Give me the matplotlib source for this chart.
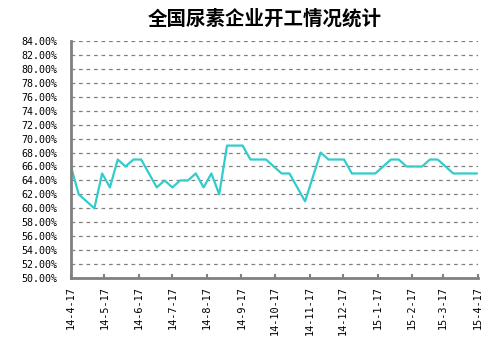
import matplotlib
matplotlib.use('Agg')
import matplotlib.pyplot as plt
import pandas as pd
import numpy as np

# weekly operating rate (%)
dates = pd.date_range('2014-04-17', periods=53, freq='7D')
rate = [66, 62, 61, 60, 65, 63, 67, 66, 67, 67,
        65, 63, 64, 63, 64, 64, 65, 63, 65, 62,
        69, 69, 69, 67, 67, 67, 66, 65, 65, 63,
        61, 64.5, 68, 67, 67, 67, 65, 65, 65, 65,
        66, 67, 67, 66, 66, 66, 67, 67, 66, 65,
        65, 65, 65]

tick_dates = pd.date_range('2014-04-01', periods=13, freq='MS') + pd.Timedelta(days=16)
tick_labels = ['14-4-17', '14-5-17', '14-6-17', '14-7-17', '14-8-17', '14-9-17',
               '14-10-17', '14-11-17', '14-12-17', '15-1-17', '15-2-17', '15-3-17',
               '15-4-17']
yticks = np.arange(50, 84.1, 2)

fig = plt.figure(figsize=(5.03, 3.51), dpi=100)
ax = fig.add_axes([0.141, 0.208, 0.809, 0.675])

ax.plot(dates, rate, color='#33CCCC', lw=1.6)

ax.set_xlim(dates[0], pd.Timestamp('2015-04-17'))
ax.set_ylim(50, 84)
ax.set_yticks(yticks)
ax.set_yticklabels(['%.2f%%' % v for v in yticks], family='DejaVu Sans Mono', fontsize=7.2)
ax.set_xticks(tick_dates)
ax.set_xticklabels(tick_labels, rotation=90, family='DejaVu Sans Mono', fontsize=7.4, va='top')

ax.grid(axis='y', color='#808080', ls=(0, (3, 3)), lw=0.9)
ax.set_axisbelow(True)
for s in ['top', 'right']:
    ax.spines[s].set_visible(False)
for s in ['left', 'bottom']:
    ax.spines[s].set_color('#808080')
    ax.spines[s].set_linewidth(2)
ax.tick_params(axis='x', direction='in', length=3, color='#808080', width=1.5, pad=6)
ax.tick_params(axis='y', length=0, pad=10)

fig.text(0.527, 0.945, '全国尿素企业开工情况统计', ha='center', va='center',
         fontsize=14, fontweight='bold', family=['Noto Sans CJK SC', 'DejaVu Sans'])

fig.savefig('out.png', dpi=100)
